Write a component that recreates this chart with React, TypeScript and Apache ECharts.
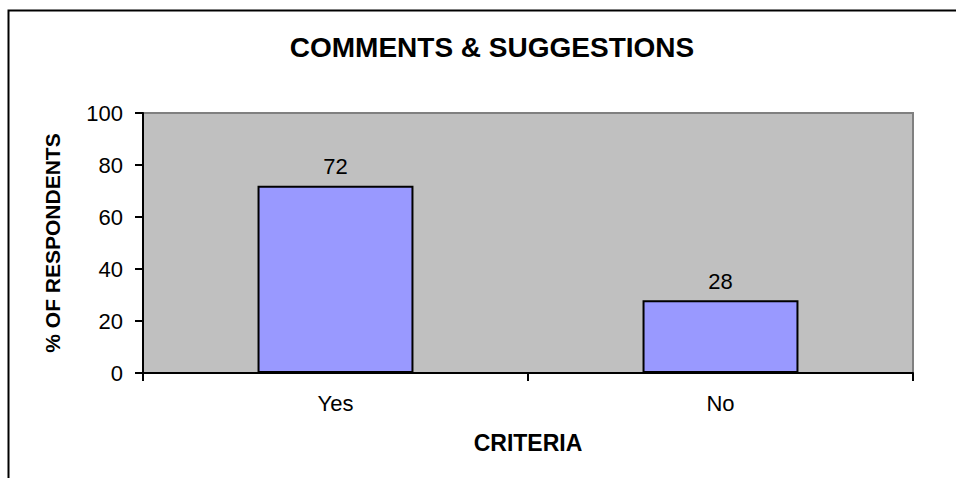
import React, { useEffect, useRef } from "react";
import * as echarts from "echarts";

const categories = ["Yes", "No"];
const values = [72, 28];
const yTicks = { min: 0, max: 100, interval: 20 };
const titleText = "COMMENTS & SUGGESTIONS";
const xName = "CRITERIA";
const yName = "% OF RESPONDENTS";

const FONT = "'Liberation Sans', Arial, sans-serif";

export default function App() {
  const ref = useRef<HTMLDivElement>(null);
  useEffect(() => {
    if (!ref.current) return;
    const chart = echarts.init(ref.current, null, { renderer: "svg" });
    chart.setOption({
      animation: false,
      backgroundColor: "#ffffff",
      title: {
        text: titleText,
        left: 487,
        top: 28,
        textAlign: "center",
        textStyle: { fontFamily: FONT, fontWeight: "bold", fontSize: 28, color: "#000" },
      },
      graphic: [
        {
          type: "polyline",
          shape: { points: [[8.5, 478], [8.5, 10.5], [956, 10.5]] },
          style: { stroke: "#000", lineWidth: 2, fill: "none" },
          z: 100,
        },
      ],
      grid: {
        left: 143,
        top: 113,
        right: 43,
        bottom: 105,
        show: true,
        backgroundColor: "#C0C0C0",
        borderColor: "#808080",
        borderWidth: 2,
      },
      xAxis: {
        type: "category",
        data: categories,
        boundaryGap: true,
        name: xName,
        nameLocation: "middle",
        nameGap: 58,
        nameTextStyle: { fontFamily: FONT, fontWeight: "bold", fontSize: 23, color: "#000" },
        axisLine: { show: true, lineStyle: { color: "#000", width: 2 } },
        axisTick: { show: true, length: 8, lineStyle: { color: "#000", width: 2 } },
        axisLabel: { fontFamily: FONT, fontSize: 22, color: "#000", margin: 19 },
        splitLine: { show: false },
      },
      yAxis: {
        type: "value",
        min: yTicks.min,
        max: yTicks.max,
        interval: yTicks.interval,
        name: yName,
        nameLocation: "middle",
        nameGap: 80,
        nameRotate: 90,
        nameTextStyle: { fontFamily: FONT, fontWeight: "bold", fontSize: 21, color: "#000" },
        axisLine: { show: true, lineStyle: { color: "#000", width: 2 } },
        axisTick: { show: true, length: 8, lineStyle: { color: "#000", width: 2 } },
        axisLabel: { fontFamily: FONT, fontSize: 22, color: "#000", margin: 20 },
        splitLine: { show: false },
      },
      series: [
        {
          type: "bar",
          data: values,
          barWidth: "40.5%",
          itemStyle: { color: "#9999FF", borderColor: "#000", borderWidth: 2 },
          label: {
            show: true,
            position: "top",
            distance: 8,
            fontFamily: FONT,
            fontSize: 22,
            color: "#000",
          },
        },
      ],
    });
    return () => chart.dispose();
  }, []);
  return (
    <div
      ref={ref}
      style={{ position: "fixed", left: 0, top: 0, width: 956, height: 478 }}
    />
  );
}
